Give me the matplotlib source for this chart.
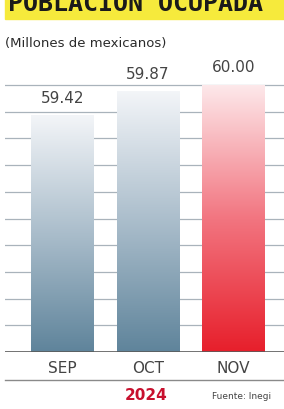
import numpy as np
import matplotlib.pyplot as plt
from matplotlib.colors import LinearSegmentedColormap
from matplotlib.patches import Rectangle

months = ['SEP', 'OCT', 'NOV']
values = [59.42, 59.87, 60.00]
value_labels = ['59.42', '59.87', '60.00']
year = '2024'
title = 'POBLACIÓN OCUPADA'
subtitle = '(Millones de mexicanos)'
source = 'Fuente: Inegi'

W, H = 284, 410
fig = plt.figure(figsize=(W / 100, H / 100), dpi=100)
narrow = ['Liberation Sans Narrow', 'DejaVu Sans']

# yellow banner, cut at the top
fig.patches.append(Rectangle((5 / W, (H - 20) / H), 1, 20 / H, transform=fig.transFigure,
                             color='#f6ea3c', zorder=0))
fig.text(8 / W, (H - 11) / H, title, fontsize=18, fontweight='bold', family='DejaVu Sans Mono',
         va='baseline', ha='left', color='#1a1a1a')
fig.text(5 / W, (H - 43) / H, subtitle, fontsize=9.5, family=narrow, va='center', ha='left',
         color='#2a2a2a')

ax = fig.add_axes([5 / W, 57 / H, 279 / W, (353 - 60) / H])
ymin = 55.0
ax.set_ylim(ymin, ymin + 293 / 53.4)
ax.set_xlim(-0.67, 2.59)

for g in np.arange(55.5, 60.01, 0.5):
    ax.axhline(g, color='#a9b3bb', lw=0.9, zorder=1)
ax.axhline(ymin, color='#5a5a5a', lw=1.2, zorder=4)

blue = LinearSegmentedColormap.from_list('b', ['#5f849b', '#aabdcb', '#f3f5f8'])
red = LinearSegmentedColormap.from_list('r', ['#e71f2b', '#f27580', '#fde8ea'])
cmaps = [blue, blue, red]
grad = np.linspace(0, 1, 256).reshape(-1, 1)
bw = 0.725
for i, (v, cm) in enumerate(zip(values, cmaps)):
    ax.imshow(grad, cmap=cm, origin='lower', aspect='auto',
              extent=[i - bw / 2, i + bw / 2, ymin, v], zorder=2)
    ax.annotate(value_labels[i], (i, v), xytext=(0, 13), textcoords='offset points',
                ha='center', va='center', fontsize=11, family=narrow, color='#444444')

ax.set_xlim(-0.67, 2.59)
ax.set_ylim(ymin, ymin + 293 / 53.4)
ax.axis('off')

for i, m in enumerate(months):
    fig.text((5 + (i + 0.67) * 85.5) / W, (H - 369) / H, m, fontsize=11, family=narrow,
             ha='center', va='center', color='#444444')
fig.add_artist(plt.Line2D([5 / W, 1], [(H - 381) / H] * 2, color='#8a8a8a', lw=1))
fig.text(146 / W, (H - 396) / H, year, fontsize=11, fontweight='bold', family='DejaVu Sans',
         ha='center', va='center', color='#c8102e')
fig.text(212 / W, (H - 397) / H, source, fontsize=6.5, family=narrow, ha='left', va='center',
         color='#444444')

fig.savefig('out.png', dpi=100)
